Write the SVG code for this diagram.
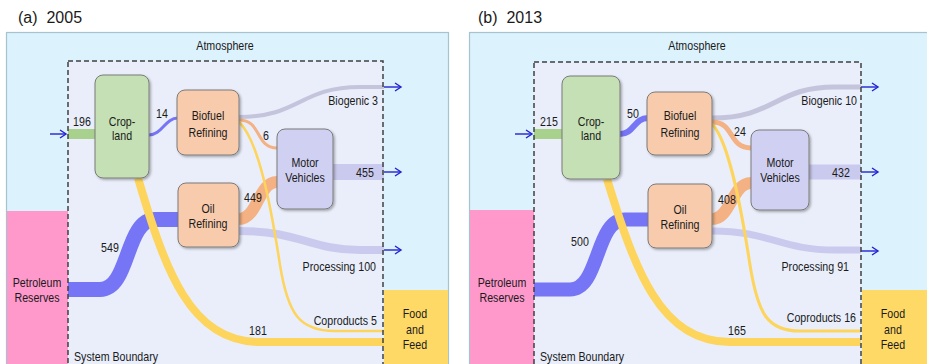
<svg xmlns="http://www.w3.org/2000/svg" width="927" height="364" viewBox="0 0 927 364">
<defs>
<style>
text{font-family:"Liberation Sans",Arial,sans-serif;fill:#1a1a1a;}
.t{font-size:16px;}
.l{font-size:13px;text-anchor:middle;}
.e{font-size:13px;text-anchor:end;}
.s{font-size:13px;text-anchor:start;}
.atm{fill:#dcf2fc;stroke:#a6c4cf;stroke-width:1.2;}
.sb{fill:#e9eefa;}
.dash{fill:none;stroke:#404040;stroke-width:1.5;stroke-dasharray:5,3;}
.node{stroke:#7a7a7a;stroke-width:1;filter:url(#sh);}
.crop{fill:#c5e0b4;}
.ref{fill:#f8cbad;}
.mv{fill:#d0d0f2;}
.f{fill:none;stroke-linecap:butt;}
.blue{stroke:#7575f5;}
.green{stroke:#a9d18e;}
.orange{stroke:#f4b183;}
.lav{stroke:#cacaee;}
.gray{stroke:#c4c4dc;}
.yel{stroke:#fdd45c;}
.arr{stroke:#2323d2;stroke-width:1.4;fill:none;marker-end:url(#ah);}
</style>
<filter id="sh" x="-20%" y="-20%" width="140%" height="140%">
<feDropShadow dx="1.5" dy="1.5" stdDeviation="1" flood-color="#000" flood-opacity="0.3"/>
</filter>
<marker id="ah" markerUnits="userSpaceOnUse" markerWidth="10" markerHeight="10" refX="7" refY="5" orient="auto">
<path d="M1,1 L7,5 L1,9" fill="none" stroke="#2323d2" stroke-width="1.4"/>
</marker>
</defs>

<!-- Panel titles -->
<text class="t" x="18" y="23" xml:space="preserve">(a)  2005</text>
<text class="t" x="478" y="23" xml:space="preserve">(b)  2013</text>

<!-- Panel (a) background -->
<g id="atmosphere-a">
<rect class="atm" x="6.5" y="32.5" width="442" height="340"/>
<text class="l" transform="translate(225,50) scale(0.82,1)">Atmosphere</text>
</g>
<rect class="sb" x="68" y="61" width="315" height="320"/>
<g id="petroleum-a">
<rect x="7" y="211" width="61" height="160" fill="#ff99cc"/>
<text class="l" transform="translate(37,286.5) scale(0.82,1)">Petroleum</text>
<text class="l" transform="translate(37,301.5) scale(0.82,1)">Reserves</text>
</g>
<g id="food-a">
<rect x="384" y="290" width="64" height="80" fill="#ffd966"/>
<text class="l" transform="translate(415,318) scale(0.82,1)">Food</text>
<text class="l" transform="translate(415,333.5) scale(0.82,1)">and</text>
<text class="l" transform="translate(415,349) scale(0.82,1)">Feed</text>
</g>

<!-- Panel (b) background -->
<g id="atmosphere-b">
<rect class="atm" x="469.5" y="32.5" width="470" height="340"/>
<text class="l" transform="translate(697,50) scale(0.82,1)">Atmosphere</text>
</g>
<rect class="sb" x="534" y="62" width="327" height="320"/>
<g id="petroleum-b">
<rect x="470" y="210" width="64" height="160" fill="#ff99cc"/>
<text class="l" transform="translate(502,286.5) scale(0.82,1)">Petroleum</text>
<text class="l" transform="translate(502,301.5) scale(0.82,1)">Reserves</text>
</g>
<g id="food-b">
<rect x="862" y="290" width="70" height="80" fill="#ffd966"/>
<text class="l" transform="translate(893,318) scale(0.82,1)">Food</text>
<text class="l" transform="translate(893,333.5) scale(0.82,1)">and</text>
<text class="l" transform="translate(893,349) scale(0.82,1)">Feed</text>
</g>

<!-- Connectors -->
<g id="connectors">
<!-- panel a -->
<path class="f gray" stroke-width="4" d="M239,117 C300,117 300,87 360,87 H384"/>
<path class="f lav" stroke-width="8" d="M239,231 C300,231 310,250 360,250 H384"/>
<path class="f lav" stroke-width="16" d="M333,172 H384"/>
<path class="f orange" stroke-width="3" d="M239,120 C262,120 255,148 277,148"/>
<path class="f orange" stroke-width="12" d="M239,219 C258,219 258,182 277,182"/>
<path class="f green" stroke-width="10" d="M68,134 H95"/>
<path class="f blue" stroke-width="3" d="M149,135 C162,135 165,118 178,118"/>
<path class="f blue" stroke-width="15" d="M68,289.5 H100 C130,289.5 125,219.5 155,219.5 H178"/>
<path class="f yel" stroke-width="8" d="M138,178 C165,270 190,342 260,342 H384"/>
<path class="f yel" stroke-width="2.5" d="M239,122 C258,140 270,200 280,265 C288,315 300,331 335,331 H384"/>
<!-- panel b -->
<path class="f gray" stroke-width="5" d="M712,118 C775,118 775,87 835,87 H861"/>
<path class="f lav" stroke-width="7" d="M712,231 C770,231 780,250 835,250 H861"/>
<path class="f lav" stroke-width="15" d="M809,172 H861"/>
<path class="f orange" stroke-width="5" d="M712,122 C735,122 728,148 751,148"/>
<path class="f orange" stroke-width="12" d="M712,219 C731,219 732,183 751,183"/>
<path class="f green" stroke-width="10" d="M534,134 H562"/>
<path class="f blue" stroke-width="6" d="M620,134 C634,134 634,118 648,118"/>
<path class="f blue" stroke-width="14" d="M534,289.5 H570 C600,289.5 595,219.5 625,219.5 H648"/>
<path class="f yel" stroke-width="8" d="M607,179 C635,270 660,342 730,342 H861"/>
<path class="f yel" stroke-width="3" d="M712,124 C728,140 740,200 750,265 C758,315 768,331 800,331 H861"/>
<!-- arrows -->
<line class="arr" x1="50" y1="134" x2="66" y2="134"/>
<line class="arr" x1="384" y1="87" x2="401" y2="87"/>
<line class="arr" x1="384" y1="172" x2="401" y2="172"/>
<line class="arr" x1="384" y1="250" x2="401" y2="250"/>
<line class="arr" x1="515" y1="134" x2="532" y2="134"/>
<line class="arr" x1="861" y1="87" x2="878" y2="87"/>
<line class="arr" x1="861" y1="172" x2="878" y2="172"/>
<line class="arr" x1="861" y1="251" x2="878" y2="251"/>
<!-- flow labels a -->
<text class="l" transform="translate(82,126) scale(0.82,1)">196</text>
<text class="l" transform="translate(162,118) scale(0.82,1)">14</text>
<text class="e" transform="translate(378,105) scale(0.82,1)">Biogenic 3</text>
<text class="l" transform="translate(266,140) scale(0.82,1)">6</text>
<text class="l" transform="translate(365,177) scale(0.82,1)">455</text>
<text class="l" transform="translate(253,202) scale(0.82,1)">449</text>
<text class="l" transform="translate(110,252) scale(0.82,1)">549</text>
<text class="e" transform="translate(376,271) scale(0.82,1)">Processing 100</text>
<text class="e" transform="translate(377,325) scale(0.82,1)">Coproducts 5</text>
<text class="l" transform="translate(258,335) scale(0.82,1)">181</text>
<!-- flow labels b -->
<text class="l" transform="translate(549,126) scale(0.82,1)">215</text>
<text class="l" transform="translate(633,118) scale(0.82,1)">50</text>
<text class="e" transform="translate(857,105) scale(0.82,1)">Biogenic 10</text>
<text class="l" transform="translate(740,136) scale(0.82,1)">24</text>
<text class="l" transform="translate(841,177) scale(0.82,1)">432</text>
<text class="l" transform="translate(727,204) scale(0.82,1)">408</text>
<text class="l" transform="translate(580,246) scale(0.82,1)">500</text>
<text class="e" transform="translate(849,271) scale(0.82,1)">Processing 91</text>
<text class="e" transform="translate(856,322) scale(0.82,1)">Coproducts 16</text>
<text class="l" transform="translate(737,335) scale(0.82,1)">165</text>
</g>

<!-- System boundaries -->
<g id="boundary-a">
<rect class="dash" x="68" y="61" width="315" height="320"/>
<text class="s" transform="translate(74,360.5) scale(0.82,1)">System Boundary</text>
</g>
<g id="boundary-b">
<rect class="dash" x="534" y="62" width="327" height="320"/>
<text class="s" transform="translate(540,360.5) scale(0.82,1)">System Boundary</text>
</g>

<!-- Nodes panel a -->
<g id="cropland-a">
<rect class="node crop" x="95" y="75" width="54" height="103" rx="8"/>
<text class="l" transform="translate(122,125.5) scale(0.82,1)">Crop-</text>
<text class="l" transform="translate(122,140) scale(0.82,1)">land</text>
</g>
<g id="biofuel-a">
<rect class="node ref" x="177" y="90" width="62" height="65" rx="8"/>
<text class="l" transform="translate(208,120) scale(0.82,1)">Biofuel</text>
<text class="l" transform="translate(208,137) scale(0.82,1)">Refining</text>
</g>
<g id="oil-a">
<rect class="node ref" x="178" y="183" width="61" height="64" rx="8"/>
<text class="l" transform="translate(208,213) scale(0.82,1)">Oil</text>
<text class="l" transform="translate(208,228) scale(0.82,1)">Refining</text>
</g>
<g id="motor-a">
<rect class="node mv" x="277" y="129" width="56" height="80" rx="8"/>
<text class="l" transform="translate(305,167) scale(0.82,1)">Motor</text>
<text class="l" transform="translate(305,182) scale(0.82,1)">Vehicles</text>
</g>

<!-- Nodes panel b -->
<g id="cropland-b">
<rect class="node crop" x="562" y="76" width="58" height="103" rx="8"/>
<text class="l" transform="translate(591,125.5) scale(0.82,1)">Crop-</text>
<text class="l" transform="translate(591,140) scale(0.82,1)">land</text>
</g>
<g id="biofuel-b">
<rect class="node ref" x="647" y="92" width="65" height="63" rx="8"/>
<text class="l" transform="translate(680,120) scale(0.82,1)">Biofuel</text>
<text class="l" transform="translate(680,137) scale(0.82,1)">Refining</text>
</g>
<g id="oil-b">
<rect class="node ref" x="648" y="184" width="64" height="64" rx="8"/>
<text class="l" transform="translate(680,214) scale(0.82,1)">Oil</text>
<text class="l" transform="translate(680,229) scale(0.82,1)">Refining</text>
</g>
<g id="motor-b">
<rect class="node mv" x="751" y="130" width="58" height="80" rx="8"/>
<text class="l" transform="translate(780,167) scale(0.82,1)">Motor</text>
<text class="l" transform="translate(780,182) scale(0.82,1)">Vehicles</text>
</g>
</svg>
